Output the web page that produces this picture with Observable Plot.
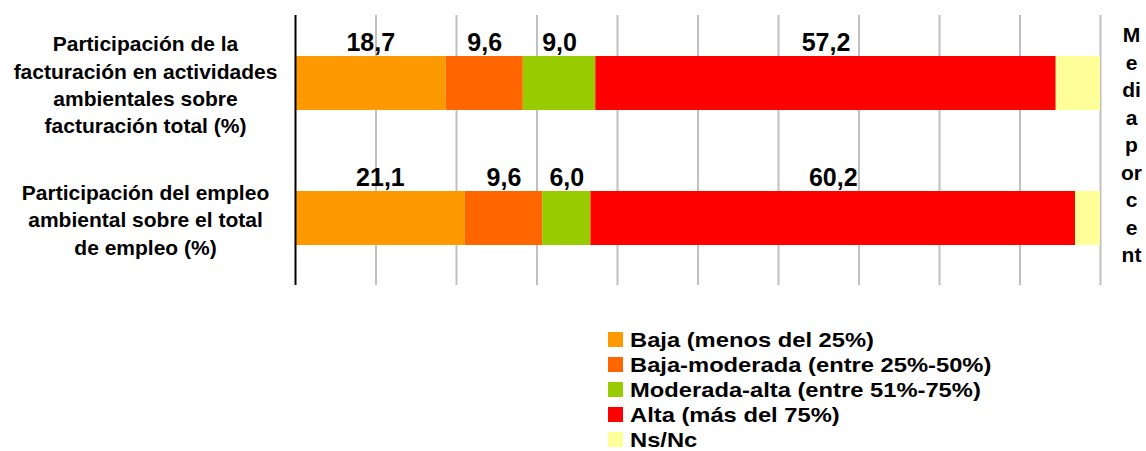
<!DOCTYPE html>
<html>
<head>
<meta charset="utf-8">
<script src="https://cdn.jsdelivr.net/npm/d3@7"></script>
<script src="https://cdn.jsdelivr.net/npm/@observablehq/plot@0.6"></script>
<style>
  body { margin: 0; background: #fff; font-family: "Liberation Sans", Arial, sans-serif; overflow: hidden; }
  #legend { margin-top: 27px; margin-left: 608px; }
  .row { display: flex; align-items: center; height: 25.1px; }
  .sw { width: 15px; height: 15px; margin-right: 7px; flex: none; }
  .lab { font-size: 21px; line-height: 1; font-weight: bold; color: #000; white-space: nowrap; display: inline-block; transform: scaleX(1.13); transform-origin: left center; }
</style>
</head>
<body>
<div id="chart"></div>
<div id="legend"></div>
<script>
const categories = [
  "Participación de la\nfacturación en actividades\nambientales sobre\nfacturación total (%)",
  "Participación del empleo\nambiental sobre el total\nde empleo (%)"
];
const series = [
  "Baja (menos del 25%)",
  "Baja-moderada (entre 25%-50%)",
  "Moderada-alta (entre 51%-75%)",
  "Alta (más del 75%)",
  "Ns/Nc"
];
const valuesFacturacion = [18.7, 9.6, 9.0, 57.2, 5.5];
const valuesEmpleo = [21.1, 9.6, 6.0, 60.2, 3.1];
const colors = ["#FF9900", "#FF6600", "#99CC00", "#FF0000", "#FFFF99"];
const gridTicks = [10, 20, 30, 40, 50, 60, 70, 80, 90, 100];
const sideLabel = "M\ne\ndi\na\np\nor\nc\ne\nnt";

const data = [];
[valuesFacturacion, valuesEmpleo].forEach((vals, i) => {
  vals.forEach((v, j) => data.push({cat: categories[i], series: series[j], value: v}));
});

const fmt = v => v.toFixed(1).replace(".", ",");

const chart = Plot.plot({
  width: 1146,
  height: 300,
  marginLeft: 295,
  marginRight: 46,
  marginTop: 15,
  marginBottom: 15,
  style: {fontFamily: '"Liberation Sans", Arial, sans-serif', background: "#fff"},
  x: {domain: [0, 100], axis: null},
  y: {domain: categories, paddingInner: 0.6, paddingOuter: 0.3, label: null},
  color: {domain: series, range: colors},
  marks: [
    Plot.gridX(gridTicks, {stroke: "#c0c0c0", strokeOpacity: 1, strokeWidth: 2}),
    Plot.barX(data, Plot.stackX({x: "value", y: "cat", fill: "series"})),
    Plot.ruleX([0], {stroke: "#000", strokeWidth: 2}),
    Plot.axisY({tickSize: 0, tickPadding: 0, dx: -150, textAnchor: "middle", fontSize: 21, fontWeight: "bold", lineHeight: 1.3, label: null, fill: "#000"}),
    Plot.text(data, Plot.stackX({
      filter: d => d.series !== "Ns/Nc",
      x: "value", y: "cat",
      text: d => fmt(d.value),
      fontSize: 25, fontWeight: "bold", fill: "#000",
      lineAnchor: "bottom", dy: -33
    })),
    Plot.text([sideLabel], {
      text: d => d, frameAnchor: "top-right", dx: 31, dy: 7,
      lineAnchor: "top", textAnchor: "middle", fontSize: 21, fontWeight: "bold",
      lineHeight: 1.31, fill: "#000"
    })
  ]
});
document.getElementById("chart").append(chart);

const legend = document.getElementById("legend");
series.forEach((s, i) => {
  const row = document.createElement("div");
  row.className = "row";
  const sw = document.createElement("span");
  sw.className = "sw";
  sw.style.background = colors[i];
  const lab = document.createElement("span");
  lab.className = "lab";
  lab.textContent = s;
  row.append(sw, lab);
  legend.append(row);
});
</script>
</body>
</html>
